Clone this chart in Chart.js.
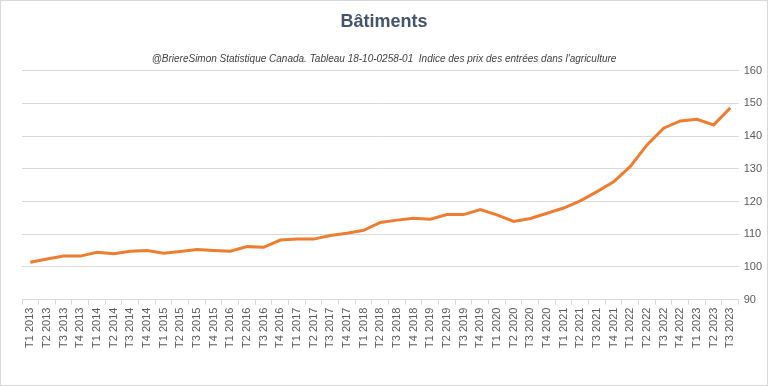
<!DOCTYPE html>
<html>
<head>
<meta charset="utf-8">
<script src="https://cdn.jsdelivr.net/npm/chart.js@4"></script>
<style>
    body { margin: 0; background: #fff; }
    .frame { width: 768px; height: 386px; box-sizing: border-box; border: 1px solid #d9d9d9; }
</style>
</head>
<body>
<div class="frame"><canvas id="chart" width="766" height="384"></canvas></div>
<script>
// Quarter labels (T1 2013 .. T3 2023)
const quarterLabels = [
    'T1 2013', 'T2 2013', 'T3 2013', 'T4 2013',
    'T1 2014', 'T2 2014', 'T3 2014', 'T4 2014',
    'T1 2015', 'T2 2015', 'T3 2015', 'T4 2015',
    'T1 2016', 'T2 2016', 'T3 2016', 'T4 2016',
    'T1 2017', 'T2 2017', 'T3 2017', 'T4 2017',
    'T1 2018', 'T2 2018', 'T3 2018', 'T4 2018',
    'T1 2019', 'T2 2019', 'T3 2019', 'T4 2019',
    'T1 2020', 'T2 2020', 'T3 2020', 'T4 2020',
    'T1 2021', 'T2 2021', 'T3 2021', 'T4 2021',
    'T1 2022', 'T2 2022', 'T3 2022', 'T4 2022',
    'T1 2023', 'T2 2023', 'T3 2023'
];

// Indice des prix - Bâtiments
const batimentsIndex = [
    101.4, 102.4, 103.3, 103.3,
    104.5, 104.0, 104.8, 105.0,
    104.2, 104.7, 105.3, 105.0,
    104.8, 106.2, 106.0, 108.2,
    108.5, 108.5, 109.6, 110.3,
    111.2, 113.6, 114.3, 114.9,
    114.6, 116.0, 116.0, 117.5,
    115.9, 113.9, 114.8, 116.4,
    118.0, 120.2, 123.0, 126.0,
    130.7, 137.3, 142.4, 144.6,
    145.1, 143.4, 148.6
];

const yTicks = { min: 90, max: 160, step: 10 };

const titleText = 'Bâtiments';
const subtitleText = "@BriereSimon Statistique Canada. Tableau 18-10-0258-01  Indice des prix des entrées dans l'agriculture";

const FONT = "'Liberation Sans', Arial, sans-serif";

new Chart(document.getElementById('chart'), {
    type: 'line',
    data: {
        labels: quarterLabels,
        datasets: [{
            data: batimentsIndex,
            borderColor: '#ED7D31',
            borderWidth: 3,
            pointRadius: 0,
            tension: 0,
            fill: false,
        }]
    },
    options: {
        responsive: false,
        animation: false,
        layout: { padding: { left: 0, right: 0, top: 10, bottom: 34 } },
        plugins: {
            legend: { display: false },
            tooltip: { enabled: false },
            title: {
                display: true,
                text: titleText,
                color: '#44546A',
                font: { family: FONT, size: 18, weight: 'bold' },
                padding: { top: 0, bottom: 21 }
            },
            subtitle: {
                display: true,
                text: subtitleText,
                color: '#404040',
                font: { family: FONT, size: 10, style: 'italic' },
                padding: { top: 0, bottom: 5 }
            }
        },
        scales: {
            x: {
                offset: true,
                grid: { offset: true, drawOnChartArea: false, drawTicks: true, tickLength: 5, color: '#d9d9d9' },
                border: { color: '#d9d9d9' },
                ticks: {
                    autoSkip: false, minRotation: 90, maxRotation: 90,
                    color: '#595959', font: { family: FONT, size: 11 }, padding: 3
                }
            },
            y: {
                position: 'right',
                min: yTicks.min,
                max: yTicks.max,
                ticks: { stepSize: yTicks.step, color: '#595959', font: { family: FONT, size: 11 }, padding: 5 },
                grid: { color: '#d9d9d9', drawTicks: false },
                border: { display: false }
            },
            // empty spacer on the left so the title stays centred on the page
            spacer: {
                type: 'linear',
                position: 'left',
                grid: { display: false },
                border: { display: false },
                ticks: { display: false },
                afterFit: (scale) => { scale.width = 21; }
            }
        }
    }
});
</script>
</body>
</html>
